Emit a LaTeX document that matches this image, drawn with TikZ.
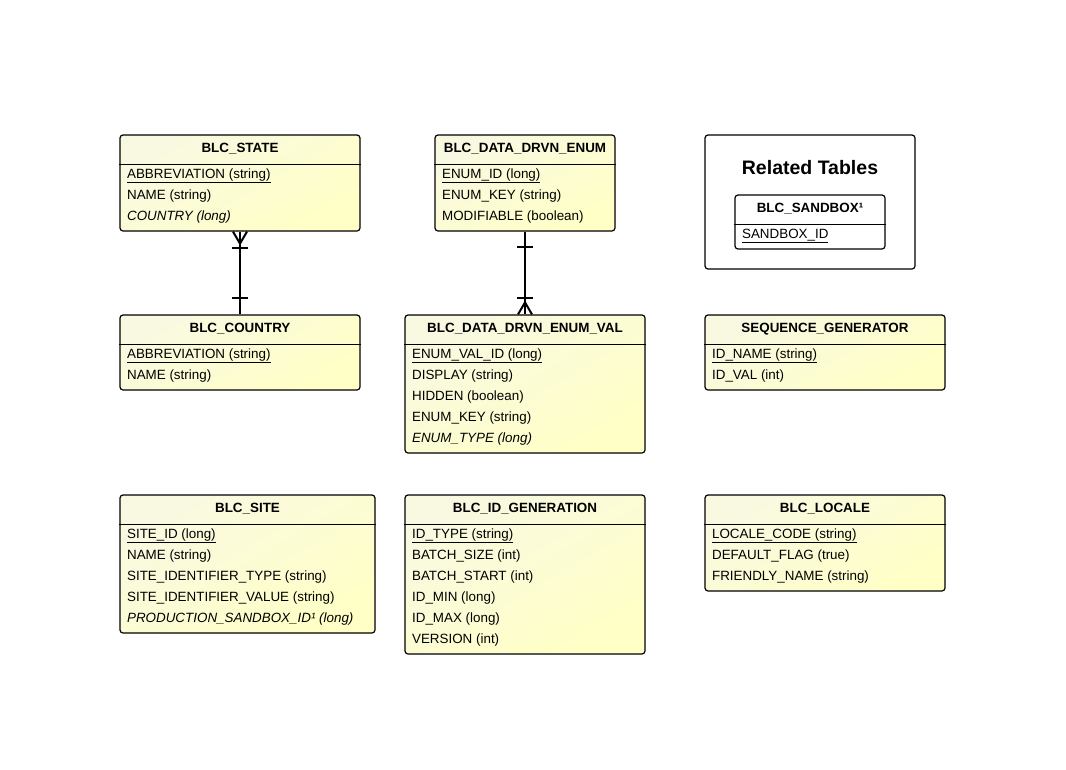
\documentclass[tikz,border=0pt]{standalone}
\usepackage{fontspec}
\setmainfont{Liberation Sans}
\usepackage{tikz}
\usetikzlibrary{calc,positioning,shadows}

\definecolor{tblTop}{HTML}{F9F9E2}
\definecolor{tblBot}{HTML}{FFFFC6}

\begin{document}
\begin{tikzpicture}[x=1pt,y=-1pt,inner sep=0pt,
  tbl/.style={draw=black,line width=1.2pt,rounded corners=3pt,
    top color=tblTop,bottom color=tblBot,shading angle=30},
  plainbox/.style={draw=black,line width=1.2pt,rounded corners=3pt,fill=white},
  ttl/.style={anchor=base,font=\fontsize{13.4}{15}\selectfont\bfseries},
  fld/.style={anchor=base west,font=\fontsize{13.4}{15}\selectfont},
  rule/.style={line width=1.8pt},
  rel/.style={line width=2pt}]
\useasboundingbox (0,0) rectangle (1066,769);

% --- top row
\node[tbl,minimum width=240pt,minimum height=96pt] (state) at (240,183) {};
\node[ttl] (stateT) at ([yshift=-18pt]state.north) {BLC\_STATE};
\draw[rule] ([yshift=-30pt]state.north west) -- ([yshift=-30pt]state.north east);
\foreach \t [count=\i from 0] in {{\underline{ABBREVIATION (string)}},NAME (string),{\textit{COUNTRY (long)}}}
  \node[fld] (state-\i) at ([xshift=7.5pt,yshift={-(43.8pt+21pt*\i)}]state.north west) {\t};

\node[tbl,minimum width=180pt,minimum height=96pt] (enum) at (525,183) {};
\node[ttl] (enumT) at ([yshift=-18pt]enum.north) {BLC\_DATA\_DRVN\_ENUM};
\draw[rule] ([yshift=-30pt]enum.north west) -- ([yshift=-30pt]enum.north east);
\foreach \t [count=\i from 0] in {{\underline{ENUM\_ID (long)}},ENUM\_KEY (string),MODIFIABLE (boolean)}
  \node[fld] (enum-\i) at ([xshift=7.5pt,yshift={-(43.8pt+21pt*\i)}]enum.north west) {\t};

\node[plainbox,minimum width=210pt,minimum height=134pt] (related) at (810,202) {};
\node[anchor=base,font=\fontsize{19.5}{22}\selectfont\bfseries] (relatedT) at ([yshift=-40pt]related.north) {Related Tables};
\node[plainbox,minimum width=150pt,minimum height=54pt] (sandbox) at (810,222) {};
\node[ttl] (sandboxT) at ([yshift=-18pt]sandbox.north) {BLC\_SANDBOX¹};
\draw[rule] ([yshift=-30pt]sandbox.north west) -- ([yshift=-30pt]sandbox.north east);
\node[fld] (sandbox-0) at ([xshift=7.5pt,yshift=-43.8pt]sandbox.north west) {\underline{SANDBOX\_ID}};

% --- middle row
\node[tbl,minimum width=240pt,minimum height=75pt] (country) at (240,352.5) {};
\node[ttl] (countryT) at ([yshift=-18pt]country.north) {BLC\_COUNTRY};
\draw[rule] ([yshift=-30pt]country.north west) -- ([yshift=-30pt]country.north east);
\foreach \t [count=\i from 0] in {{\underline{ABBREVIATION (string)}},NAME (string)}
  \node[fld] (country-\i) at ([xshift=7.5pt,yshift={-(43.8pt+21pt*\i)}]country.north west) {\t};

\node[tbl,minimum width=240pt,minimum height=138pt] (enumval) at (525,384) {};
\node[ttl] (enumvalT) at ([yshift=-18pt]enumval.north) {BLC\_DATA\_DRVN\_ENUM\_VAL};
\draw[rule] ([yshift=-30pt]enumval.north west) -- ([yshift=-30pt]enumval.north east);
\foreach \t [count=\i from 0] in {{\underline{ENUM\_VAL\_ID (long)}},DISPLAY (string),HIDDEN (boolean),ENUM\_KEY (string),{\textit{ENUM\_TYPE (long)}}}
  \node[fld] (enumval-\i) at ([xshift=7.5pt,yshift={-(43.8pt+21pt*\i)}]enumval.north west) {\t};

\node[tbl,minimum width=240pt,minimum height=75pt] (seqgen) at (825,352.5) {};
\node[ttl] (seqgenT) at ([yshift=-18pt]seqgen.north) {SEQUENCE\_GENERATOR};
\draw[rule] ([yshift=-30pt]seqgen.north west) -- ([yshift=-30pt]seqgen.north east);
\foreach \t [count=\i from 0] in {{\underline{ID\_NAME (string)}},ID\_VAL (int)}
  \node[fld] (seqgen-\i) at ([xshift=7.5pt,yshift={-(43.8pt+21pt*\i)}]seqgen.north west) {\t};

% --- bottom row
\node[tbl,minimum width=255pt,minimum height=138pt] (site) at (247.5,564) {};
\node[ttl] (siteT) at ([yshift=-18pt]site.north) {BLC\_SITE};
\draw[rule] ([yshift=-30pt]site.north west) -- ([yshift=-30pt]site.north east);
\foreach \t [count=\i from 0] in {{\underline{SITE\_ID (long)}},NAME (string),SITE\_IDENTIFIER\_TYPE (string),SITE\_IDENTIFIER\_VALUE (string),{\textit{PRODUCTION\_SANDBOX\_ID¹ (long)}}}
  \node[fld] (site-\i) at ([xshift=7.5pt,yshift={-(43.8pt+21pt*\i)}]site.north west) {\t};

\node[tbl,minimum width=240pt,minimum height=159pt] (idgen) at (525,574.5) {};
\node[ttl] (idgenT) at ([yshift=-18pt]idgen.north) {BLC\_ID\_GENERATION};
\draw[rule] ([yshift=-30pt]idgen.north west) -- ([yshift=-30pt]idgen.north east);
\foreach \t [count=\i from 0] in {{\underline{ID\_TYPE (string)}},BATCH\_SIZE (int),BATCH\_START (int),ID\_MIN (long),ID\_MAX (long),VERSION (int)}
  \node[fld] (idgen-\i) at ([xshift=7.5pt,yshift={-(43.8pt+21pt*\i)}]idgen.north west) {\t};

\node[tbl,minimum width=240pt,minimum height=96pt] (locale) at (825,543) {};
\node[ttl] (localeT) at ([yshift=-18pt]locale.north) {BLC\_LOCALE};
\draw[rule] ([yshift=-30pt]locale.north west) -- ([yshift=-30pt]locale.north east);
\foreach \t [count=\i from 0] in {{\underline{LOCALE\_CODE (string)}},DEFAULT\_FLAG (true),FRIENDLY\_NAME (string)}
  \node[fld] (locale-\i) at ([xshift=7.5pt,yshift={-(43.8pt+21pt*\i)}]locale.north west) {\t};

% relations
\draw[rel] (state.south) -- (country.north);
\draw[rel] ([xshift=-7pt]state.south) -- ([yshift=-12pt]state.south) -- ([xshift=7pt]state.south);
\draw[rel] ([xshift=-8pt,yshift=-16pt]state.south) -- ([xshift=8pt,yshift=-16pt]state.south);
\draw[rel] ([xshift=-8pt,yshift=16.5pt]country.north) -- ([xshift=8pt,yshift=16.5pt]country.north);

\draw[rel] (enum.south) -- (enumval.north);
\draw[rel] ([xshift=-8pt,yshift=-15pt]enum.south) -- ([xshift=8pt,yshift=-15pt]enum.south);
\draw[rel] ([xshift=-7pt]enumval.north) -- ([yshift=12pt]enumval.north) -- ([xshift=7pt]enumval.north);
\draw[rel] ([xshift=-8pt,yshift=16.5pt]enumval.north) -- ([xshift=8pt,yshift=16.5pt]enumval.north);
\end{tikzpicture}
\end{document}
